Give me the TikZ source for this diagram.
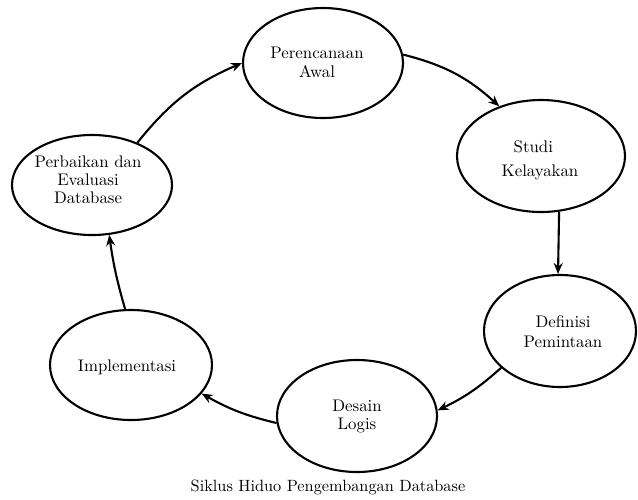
\documentclass[tikz,border=0pt]{standalone}
\usepackage{fontspec}
\setmainfont{lmroman10-regular.otf}
\usetikzlibrary{shapes.geometric,arrows.meta}
\begin{document}
\begin{tikzpicture}[x=1pt,y=-1pt,
  stage/.style={ellipse,draw,line width=2.1pt,inner sep=0pt},
  label/.style={align=center,font=\fontsize{16.8}{19}\selectfont},
  flow/.style={line width=2.1pt,-{Stealth[length=11pt,width=9pt]}}]
\useasboundingbox (0,0) rectangle (638,499);
% stages of the cycle
\node[stage,minimum width=160pt,minimum height=110pt] (awal) at (323,63) {};
\node[label] (awalT) at (317,62) {Perencanaan\\Awal};
\node[stage,minimum width=168pt,minimum height=112pt] (studi) at (541,156) {};
\node[label,align=left] (studiT) at (540,160) {\hspace{12pt}Studi\\[5pt]Kelayakan};
\node[stage,minimum width=160pt,minimum height=100pt] (perbaikan) at (92,185) {};
\node[label,font=\fontsize{16.8}{18}\selectfont] (perbaikanT) at (88,180) {Perbaikan dan\\Evaluasi\\Database};
\node[stage,minimum width=152pt,minimum height=112pt] (definisi) at (560,331) {};
\node[label,font=\fontsize{16.8}{20}\selectfont] (definisiT) at (563,332) {Definisi\\Pemintaan};
\node[stage,minimum width=162pt,minimum height=110pt] (impl) at (131,365) {};
\node[label] (implT) at (127,367) {Implementasi};
\node[stage,minimum width=160pt,minimum height=112pt] (desain) at (357,416) {};
\node[label,font=\fontsize{16.8}{18}\selectfont] (desainT) at (357,416) {Desain\\Logis};
% caption
\node[label,font=\fontsize{16.3}{19}\selectfont] (caption) at (328,487) {Siklus Hiduo Pengembangan Database};
% cycle connectors
\draw[flow] (perbaikan.43) to[bend left=14] (awal.180);
\draw[flow] (awal.6) to[bend left=14] (studi.130);
\draw[flow] (studi.288) -- (definisi.92);
\draw[flow] (definisi.212) to[bend left=8] (desain.4);
\draw[flow] (desain.185) to[bend left=8] (impl.-22);
\draw[flow] (impl.96) to[bend left=4] (perbaikan.-71);
\end{tikzpicture}
\end{document}
